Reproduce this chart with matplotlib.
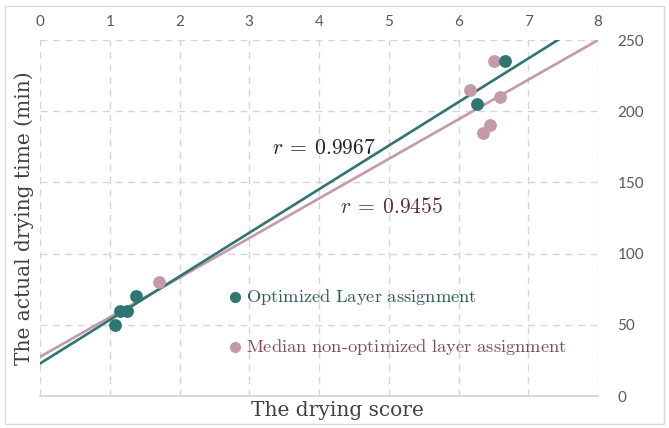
import numpy as np
import matplotlib.pyplot as plt
from matplotlib.patches import Rectangle

plt.rcParams['mathtext.fontset'] = 'cm'

# drying score vs actual drying time (min)
opt_score = [1.08, 1.15, 1.25, 1.38, 6.26, 6.66]
opt_time = [50, 60, 60, 70, 205, 235]
med_score = [1.71, 6.17, 6.51, 6.35, 6.45, 6.60]
med_time = [80, 215, 235, 185, 190, 210]

# trend lines (slope, intercept)
opt_fit = (30.6, 22.8)
med_fit = (27.8, 27.5)
opt_r = 0.9967
med_r = 0.9455

x_ticks = [0, 1, 2, 3, 4, 5, 6, 7, 8]
y_ticks = [0, 50, 100, 150, 200, 250]

teal = '#2f7571'
pink = '#c49aab'
grid_c = '#d6d6d6'
tick_c = '#595959'

fig = plt.figure(figsize=(6.69, 4.28), dpi=100)
ax = fig.add_axes([40/669, 32/428, 558/669, 356/428])

ax.set_xlim(0, 8)
ax.set_ylim(0, 250)

## grid, dashed like the excel original
for xv in x_ticks:
    ax.axvline(xv, color=grid_c, lw=1, ls=(0, (5, 4)), zorder=0)
for yv in y_ticks[1:]:
    ax.axhline(yv, color=grid_c, lw=1, ls=(0, (5, 4)), zorder=0)

for s in ['top', 'left', 'right']:
    ax.spines[s].set_visible(False)
ax.spines['bottom'].set_color('#d0d0d0')
ax.spines['bottom'].set_linewidth(1.2)

ax.xaxis.tick_top()
ax.yaxis.tick_right()
ax.set_xticks(x_ticks)
ax.set_yticks(y_ticks)
ax.tick_params(length=0, labelsize=11, labelcolor=tick_c, pad=8)
ax.tick_params(axis='y', pad=14)
for lab in ax.get_xticklabels() + ax.get_yticklabels():
    lab.set_fontfamily('Lato')

## trend lines
xs = np.array([0, 8])
ax.plot(xs, opt_fit[0]*xs + opt_fit[1], color=teal, lw=1.9, zorder=3)
ax.plot(xs, med_fit[0]*xs + med_fit[1], color=pink, lw=1.9, zorder=2)

ax.scatter(med_score, med_time, s=85, color=pink, zorder=4, linewidths=0)
ax.scatter(opt_score, opt_time, s=85, color=teal, zorder=5, linewidths=0)

ax.text(3.32, 174, r'$r\:=\:%.4f$' % opt_r, fontsize=15.5, color='#222222', va='center')
ax.text(4.3, 133, r'$r\:=\:%.4f$' % med_r, fontsize=15.5, color='#5c2b43', va='center')

## in-plot legend
ax.scatter([2.8], [69.5], s=65, color=teal, zorder=5, linewidths=0)
ax.scatter([2.8], [34.5], s=65, color=pink, zorder=5, linewidths=0)
ax.text(2.95, 69.5, r'$\mathrm{Optimized\ Layer\ assignment}$', fontsize=13.3,
        color='#2b5c59', va='center')
ax.text(2.95, 34.5, r'$\mathrm{Median\ non\text{-}optimized\ layer\ assignment}$',
        fontsize=13.3, color='#7f4a60', va='center')

ax.set_xlabel('The drying score', family='DejaVu Serif', fontsize=14.5,
              color='#404040')
ax.xaxis.set_label_position('bottom')
ax.xaxis.set_label_coords(297.5/558, -0.015)
ax.set_ylabel('The actual drying time (min)', family='DejaVu Serif', fontsize=14.5,
              color='#404040', labelpad=4)
ax.yaxis.set_label_position('left')

fig.patches.append(Rectangle((5/669, 4/428), 659/669, 418/428, transform=fig.transFigure,
                             fill=False, edgecolor='#d9d9d9', lw=1))

fig.savefig('out.png', dpi=100)
